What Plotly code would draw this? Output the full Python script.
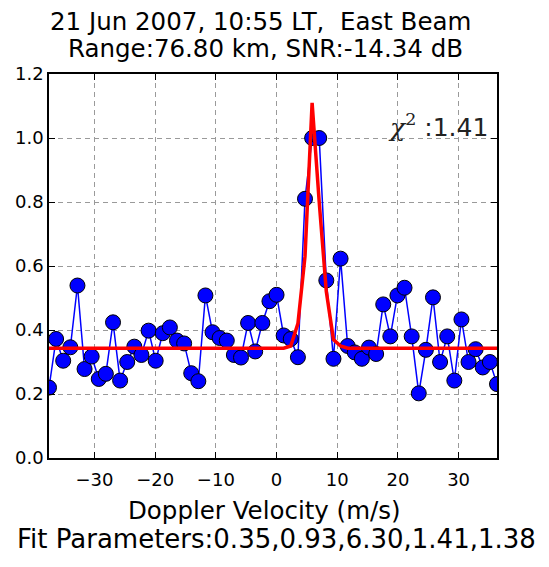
import plotly.graph_objects as go

# Doppler velocity bins (m/s)
velocity = [-37.50, -36.33, -35.16, -33.98, -32.81, -31.64, -30.47, -29.30,
            -28.13, -26.95, -25.78, -24.61, -23.44, -22.27, -21.09, -19.92,
            -18.75, -17.58, -16.41, -15.23, -14.06, -12.89, -11.72, -10.55,
            -9.38, -8.20, -7.03, -5.86, -4.69, -3.52, -2.34, -1.17,
            0.00, 1.17, 2.34, 3.52, 4.69, 5.86, 7.03, 8.20,
            9.38, 10.55, 11.72, 12.89, 14.06, 15.23, 16.41, 17.58,
            18.75, 19.92, 21.09, 22.27, 23.44, 24.61, 25.78, 26.95,
            28.13, 29.30, 30.47, 31.64, 32.81, 33.98, 35.16, 36.33]

# Normalised spectrum (measured)
spectrum = [0.22, 0.372, 0.304, 0.346, 0.539, 0.278, 0.317, 0.247,
            0.263, 0.424, 0.242, 0.300, 0.348, 0.322, 0.398, 0.304,
            0.390, 0.408, 0.367, 0.358, 0.265, 0.240, 0.508, 0.393,
            0.375, 0.367, 0.322, 0.314, 0.422, 0.333, 0.422, 0.490,
            0.510, 0.383, 0.372, 0.315, 0.810, 1.000, 1.000, 0.555,
            0.310, 0.623, 0.350, 0.330, 0.310, 0.345, 0.325, 0.480,
            0.380, 0.508, 0.532, 0.380, 0.202, 0.338, 0.502, 0.300,
            0.380, 0.242, 0.433, 0.300, 0.340, 0.283, 0.300, 0.231]

# Gaussian fit evaluated at the velocity bins
fit = [0.343, 0.343, 0.343, 0.343, 0.343, 0.343, 0.343, 0.343,
       0.343, 0.343, 0.343, 0.343, 0.343, 0.343, 0.343, 0.343,
       0.343, 0.343, 0.343, 0.343, 0.343, 0.343, 0.343, 0.343,
       0.343, 0.343, 0.343, 0.343, 0.343, 0.343, 0.343, 0.343,
       0.343, 0.343, 0.350, 0.420, 0.630, 1.110, 0.800, 0.520,
       0.370, 0.350, 0.343, 0.343, 0.343, 0.343, 0.343, 0.343,
       0.343, 0.343, 0.343, 0.343, 0.343, 0.343, 0.343, 0.343,
       0.343, 0.343, 0.343, 0.343, 0.343, 0.343, 0.343, 0.343]

x_ticks = [-30, -20, -10, 0, 10, 20, 30]
y_ticks = [0.0, 0.2, 0.4, 0.6, 0.8, 1.0, 1.2]

title_line1 = "21 Jun 2007, 10:55 LT,\u00a0 East Beam"
title_line2 = "Range:76.80 km, SNR:-14.34 dB"
x_label = "Doppler Velocity (m/s)"
fit_label = "Fit Parameters:0.35,0.93,6.30,1.41,1.38"
chi_value = "1.41"

FONT = "DejaVu Sans"

fig = go.Figure()
fig.add_trace(go.Scatter(
    x=velocity, y=spectrum, mode="lines+markers",
    line=dict(color="#0000ff", width=1.5),
    marker=dict(size=15, color="#0000ff", line=dict(color="black", width=1)),
))
fig.add_trace(go.Scatter(
    x=velocity, y=fit, mode="lines",
    line=dict(color="#ff0000", width=3.5),
))

axis_common = dict(
    showline=True, linecolor="black", linewidth=1.5, mirror="ticks",
    ticks="inside", ticklen=6, tickwidth=1, tickcolor="black",
    showgrid=True, gridcolor="#9a9a9a", gridwidth=1, griddash="5px,4px",
    zeroline=False, tickfont=dict(family=FONT, size=18, color="black"),
)

fig.update_xaxes(range=[velocity[0], velocity[-1]], tickvals=x_ticks,
                 ticklabelstandoff=5, **axis_common)
fig.update_yaxes(range=[0, 1.2], tickvals=y_ticks, tickformat=".1f",
                 **axis_common)

ann = []
ann.append(dict(text=title_line1, xref="paper", yref="paper", x=0.473, y=1.136,
                xanchor="center", yanchor="middle", showarrow=False,
                font=dict(family=FONT, size=24.5, color="black")))
ann.append(dict(text=title_line2, xref="paper", yref="paper", x=0.484, y=1.066,
                xanchor="center", yanchor="middle", showarrow=False,
                font=dict(family=FONT, size=24.5, color="black")))
ann.append(dict(text=x_label, xref="paper", yref="paper", x=0.482, y=-0.138,
                xanchor="center", yanchor="middle", showarrow=False,
                font=dict(family=FONT, size=24.5, color="black")))
ann.append(dict(text=fit_label, xref="paper", yref="paper", x=0.508, y=-0.210,
                xanchor="center", yanchor="middle", showarrow=False,
                font=dict(family=FONT, size=26, color="black")))
ann.append(dict(text="<span style=\"font-family:'DejaVu Serif'\"><i>χ</i><sup>2</sup></span> :" + chi_value,
                xref="x", yref="y", x=18.0, y=1.04,
                xanchor="left", yanchor="middle", showarrow=False,
                font=dict(family=FONT, size=25, color="#222222")))

fig.update_layout(
    width=549, height=567,
    margin=dict(l=49, r=52, t=74, b=109),
    plot_bgcolor="white", paper_bgcolor="white",
    showlegend=False, annotations=ann,
    font=dict(family=FONT, color="black"),
)

fig.write_html("out.html")
